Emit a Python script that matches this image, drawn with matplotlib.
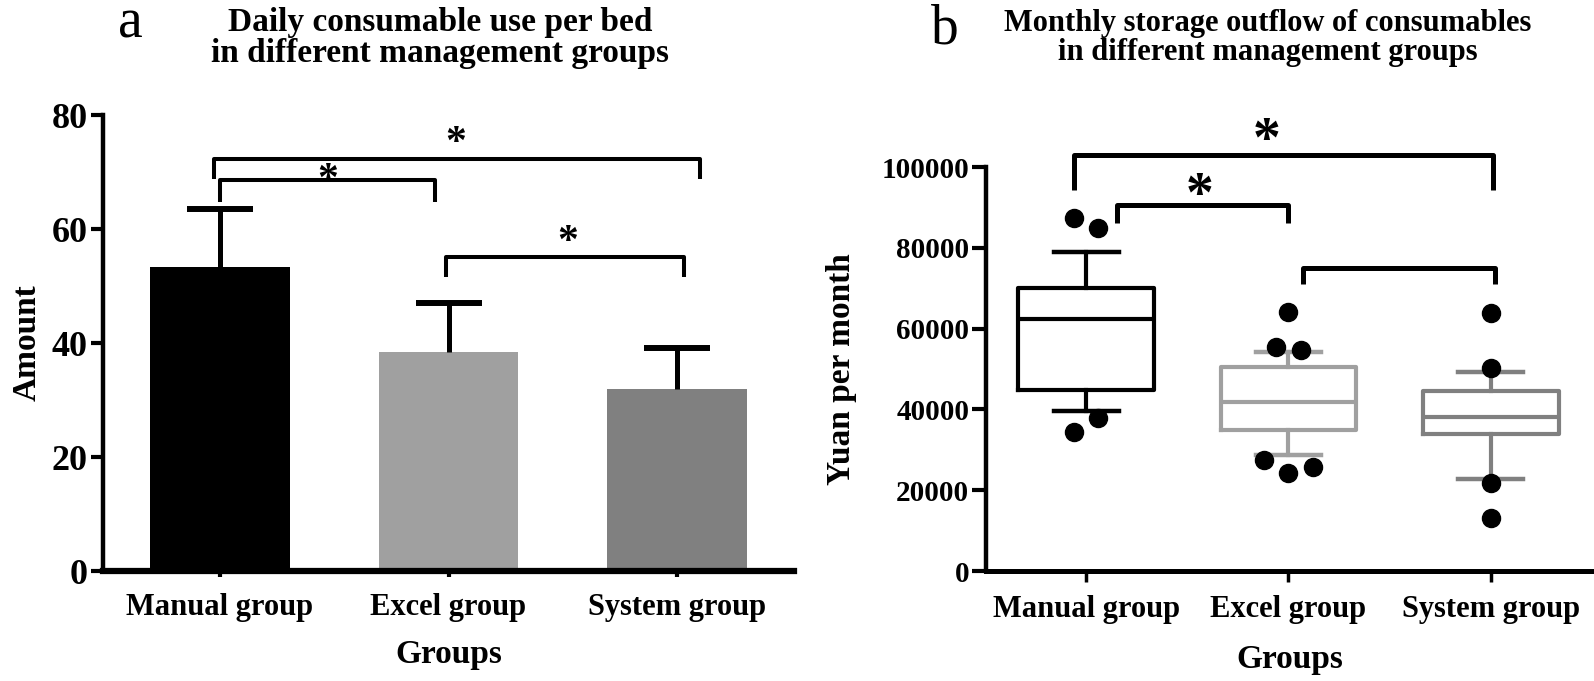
import matplotlib.pyplot as plt
import numpy as np

plt.rcParams["font.family"] = ["Liberation Serif", "DejaVu Serif"]
plt.rcParams["font.weight"] = "bold"
plt.rcParams["axes.labelweight"] = "bold"

groups = ["Manual group", "Excel group", "System group"]
colors = ["#000000", "#a0a0a0", "#808080"]

# panel a: daily use per bed, mean and upper SD
use_mean = [53.4, 38.5, 31.9]
use_sd = [10.1, 8.5, 7.2]

# panel b: monthly outflow, box statistics (yuan)
whisk_lo = [39600, 28700, 22800]
box_q1 = [44800, 34900, 33900]
box_med = [62400, 41800, 38200]
box_q3 = [70000, 50500, 44600]
whisk_hi = [79000, 54300, 49300]
outliers = [
    [87500, 84900, 37900, 34400],
    [64100, 55400, 54700, 27500, 24200, 25800],
    [63800, 50200, 21700, 13000],
]
outlier_dx = [
    [-0.06, 0.06, 0.06, -0.06],
    [0.0, -0.06, 0.06, -0.12, 0.0, 0.12],
    [0.0, 0.0, 0.0, 0.0],
]

# significance brackets: (x1, x2, y, leg bottom)
brackets_a = [
    (-0.026, 2.10, 72.3, 68.8),
    (0.0, 0.94, 68.6, 64.8),
    (0.99, 2.03, 55.1, 51.6),
]
stars_a = [(1.03, 75.0), (0.47, 68.5), (1.52, 57.6)]
brackets_b = [
    (-0.06, 2.01, 103000, 94300),
    (0.15, 1.0, 90600, 86100),
    (1.07, 2.02, 75000, 71000),
]
stars_b = [(0.89, 106300), (0.56, 92500)]

W, H = 1594, 681
fig = plt.figure(figsize=(W / 100, H / 100), dpi=100)


def px_axes(left, right, top, bottom):
    return fig.add_axes([left / W, 1 - bottom / H, (right - left) / W, (bottom - top) / H])


def draw_bracket(ax, x1, x2, y, leg, lw):
    ax.plot([x1, x1, x2, x2], [leg, y, y, leg], color="k", lw=lw,
            clip_on=False, solid_joinstyle="round", solid_capstyle="butt")


x = np.arange(len(groups))

# ---------------- panel a ----------------
ax1 = px_axes(103, 794, 115, 571)
ax1.bar(x, use_mean, width=0.61, color=colors, zorder=2)
eb = ax1.errorbar(x, use_mean, yerr=[[0] * 3, use_sd], fmt="none", ecolor="k",
                  elinewidth=3.6, capsize=23.5, capthick=4.3, zorder=3)
eb[1][0].set_visible(False)  # no lower cap
ax1.set_xlim(-0.512, 2.512)
ax1.set_ylim(0, 80)
ax1.set_yticks([0, 20, 40, 60, 80])
ax1.set_xticks(x)
ax1.set_xticklabels(groups)
for side in ["top", "right"]:
    ax1.spines[side].set_visible(False)
ax1.spines["left"].set_linewidth(3.2)
ax1.spines["bottom"].set_linewidth(4.5)
ax1.tick_params(axis="y", length=9, width=3, labelsize=26, pad=2)
ax1.tick_params(axis="x", length=4, width=3, labelsize=22, pad=12)
ax1.set_ylabel("Amount", fontsize=24)
ax1.yaxis.set_label_coords(-0.088, 0.5)
ax1.set_xlabel("Groups", fontsize=24)
ax1.xaxis.set_label_coords(0.50, -0.15)
for x1, x2, y, leg in brackets_a:
    draw_bracket(ax1, x1, x2, y, leg, 2.9)
for sx, sy in stars_a:
    ax1.text(sx, sy, "*", fontsize=30, ha="center", va="center", clip_on=False)

fig.text(130 / W, 1 - 37 / H, "a", fontsize=40, fontweight="normal", ha="center", va="baseline")
fig.text(440 / W, 1 - 38 / H, "Daily consumable use per bed\nin different management groups",
         fontsize=24, ha="center", va="center", linespacing=1.0)

# ---------------- panel b ----------------
ax2 = px_axes(986, 1594, 167, 571)
stats = []
for i, g in enumerate(groups):
    stats.append(dict(label=g, whislo=whisk_lo[i], q1=box_q1[i], med=box_med[i],
                      q3=box_q3[i], whishi=whisk_hi[i], fliers=[]))
art = ax2.bxp(stats, positions=x, widths=0.67, capwidths=0.32, showfliers=False,
              boxprops=dict(lw=3), whiskerprops=dict(lw=3), capprops=dict(lw=3.2),
              medianprops=dict(lw=3))
for i, c in enumerate(colors):
    art["boxes"][i].set_color(c)
    art["medians"][i].set_color(c)
    for j in (2 * i, 2 * i + 1):
        art["whiskers"][j].set_color(c)
        art["caps"][j].set_color(c)
for i, vals in enumerate(outliers):
    ax2.plot(x[i] + np.array(outlier_dx[i]), vals, "o", color="k", ms=13, zorder=4)

ax2.set_xlim(-0.495, 2.51)
ax2.set_ylim(0, 100000)
ax2.set_yticks(np.arange(0, 100001, 20000))
ax2.set_xticks(x)
ax2.set_xticklabels(groups)
for side in ["top", "right"]:
    ax2.spines[side].set_visible(False)
ax2.spines["left"].set_linewidth(3.2)
ax2.spines["bottom"].set_linewidth(3.6)
ax2.tick_params(axis="y", length=10, width=3, labelsize=21, pad=2)
ax2.tick_params(axis="x", length=8, width=2.5, labelsize=22, pad=9)
ax2.set_ylabel("Yuan per month", fontsize=24)
ax2.yaxis.set_label_coords(-0.212, 0.5)
ax2.set_xlabel("Groups", fontsize=24)
ax2.xaxis.set_label_coords(0.5, -0.18)
for x1, x2, y, leg in brackets_b:
    draw_bracket(ax2, x1, x2, y, leg, 3.6)
for sx, sy in stars_b:
    ax2.text(sx, sy, "*", fontsize=40, ha="center", va="center", clip_on=False)

fig.text(945 / W, 1 - 44 / H, "b", fontsize=40, fontweight="normal", ha="center", va="baseline")
fig.text(1268 / W, 1 - 38 / H, "Monthly storage outflow of consumables\nin different management groups",
         fontsize=22, ha="center", va="center", linespacing=1.0)

fig.savefig("out.png", dpi=100)
